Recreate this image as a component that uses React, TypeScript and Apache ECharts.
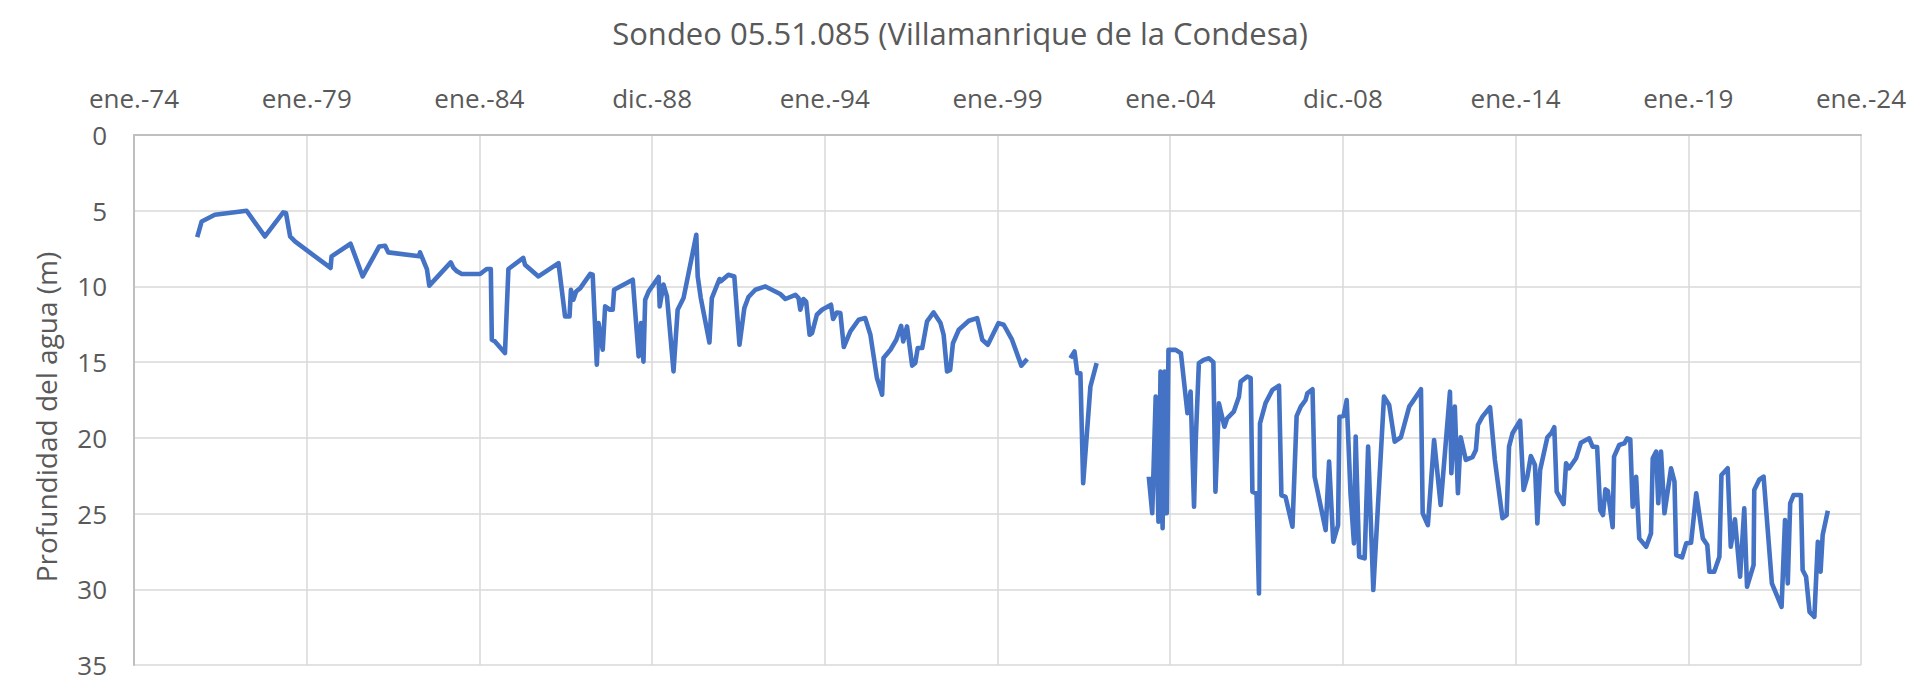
import { useEffect, useRef } from 'react';
import * as echarts from 'echarts';

// Sondeo 05.51.085 - water depth readings.
// Years are decimal years, depths in metres. Three separate runs of data.
const runAYears = [
  1975.83, 1975.96, 1976.34, 1977.26, 1977.79, 1978.32, 1978.4, 1978.52, 1978.66, 1979.69,
  1979.72, 1980.27, 1980.62, 1981.1, 1981.27, 1981.36, 1982.26, 1982.28, 1982.48, 1982.55,
  1983.17, 1983.25, 1983.35, 1983.49, 1984.02, 1984.21, 1984.33, 1984.36, 1984.45, 1984.74,
  1984.84, 1985.27, 1985.32, 1985.71, 1986.29, 1986.48, 1986.61, 1986.65, 1986.72, 1986.8,
  1986.92, 1987.21, 1987.28, 1987.4, 1987.45, 1987.57, 1987.64, 1987.78, 1987.86, 1987.9,
  1988.44, 1988.61, 1988.68, 1988.75, 1988.8, 1988.9, 1989.19, 1989.22, 1989.33, 1989.43,
  1989.62, 1989.74, 1989.91, 1990.28, 1990.32, 1990.41, 1990.66, 1990.73, 1990.95, 1990.99,
  1991.21, 1991.38, 1991.53, 1991.67, 1991.79, 1991.99, 1992.28, 1992.71, 1992.86, 1993.15,
  1993.24, 1993.29, 1993.38, 1993.46, 1993.56, 1993.63, 1993.77, 1993.92, 1994.18, 1994.24,
  1994.35, 1994.45, 1994.55, 1994.74, 1994.98, 1995.17, 1995.32, 1995.51, 1995.66, 1995.7,
  1995.9, 1996.07, 1996.21, 1996.27, 1996.38, 1996.53, 1996.62, 1996.69, 1996.82, 1996.96,
  1997.15, 1997.35, 1997.44, 1997.54, 1997.63, 1997.71, 1997.88, 1998.17, 1998.41, 1998.56,
  1998.72, 1999.03, 1999.18, 1999.42, 1999.69, 1999.86,
];
const runADepths = [
  6.74, 5.71, 5.27, 5.0, 6.7, 5.11, 5.15, 6.7, 7.03, 8.78,
  8.01, 7.18, 9.34, 7.36, 7.31, 7.75, 8.01, 7.75, 8.85, 9.95,
  8.41, 8.78, 9.0, 9.18, 9.18, 8.85, 8.85, 13.52, 13.63, 14.4,
  8.85, 8.12, 8.57, 9.34, 8.46, 11.98, 11.98, 10.22, 10.88, 10.33,
  10.11, 9.17, 9.23, 15.17, 12.42, 14.18, 11.32, 11.54, 11.54, 10.22,
  9.56, 14.62, 12.42, 14.97, 10.88, 10.33, 9.38, 11.32, 9.88, 10.66,
  15.61, 11.54, 10.77, 6.59, 9.34, 10.77, 13.7, 10.77, 9.51, 9.66,
  9.23, 9.34, 13.85, 11.43, 10.7, 10.22, 10.0, 10.5, 10.83, 10.55,
  10.77, 11.54, 10.83, 11.0, 13.19, 13.08, 11.87, 11.54, 11.21, 12.15,
  11.72, 11.76, 14.0, 12.97, 12.2, 12.09, 13.19, 16.05, 17.15, 14.73,
  14.18, 13.52, 12.6, 13.63, 12.64, 15.23, 15.05, 14.07, 14.07, 12.31,
  11.72, 12.42, 13.19, 15.62, 15.51, 13.75, 12.86, 12.27, 12.09, 13.52,
  13.85, 12.42, 12.53, 13.52, 15.23, 14.79,
];

const runBYears = [2001.11, 2001.23, 2001.31, 2001.4, 2001.48, 2001.69, 2001.87];
const runBDepths = [14.74, 14.3, 15.73, 15.73, 23.0, 16.61, 15.07];

const runCYears = [
  2003.38, 2003.48, 2003.58, 2003.66, 2003.72, 2003.78, 2003.84, 2003.9, 2003.95, 2004.16,
  2004.31, 2004.5, 2004.59, 2004.69, 2004.74, 2004.83, 2004.97, 2005.12, 2005.25, 2005.31,
  2005.41, 2005.57, 2005.65, 2005.84, 2005.99, 2006.04, 2006.23, 2006.33, 2006.38, 2006.5,
  2006.57, 2006.6, 2006.76, 2006.96, 2007.15, 2007.22, 2007.34, 2007.54, 2007.66, 2007.78,
  2007.92, 2007.97, 2008.12, 2008.18, 2008.5, 2008.6, 2008.72, 2008.86, 2008.9, 2009.02,
  2009.11, 2009.22, 2009.32, 2009.37, 2009.47, 2009.63, 2009.73, 2009.88, 2010.19, 2010.34,
  2010.5, 2010.68, 2010.92, 2011.02, 2011.26, 2011.31, 2011.46, 2011.64, 2011.83, 2012.1,
  2012.14, 2012.24, 2012.33, 2012.41, 2012.56, 2012.75, 2012.85, 2012.91, 2013.04, 2013.26,
  2013.4, 2013.62, 2013.74, 2013.81, 2013.91, 2014.13, 2014.23, 2014.34, 2014.44, 2014.56,
  2014.63, 2014.71, 2014.92, 2015.04, 2015.12, 2015.19, 2015.39, 2015.46, 2015.55, 2015.75,
  2015.89, 2016.13, 2016.23, 2016.36, 2016.45, 2016.53, 2016.6, 2016.67, 2016.81, 2016.85,
  2017.0, 2017.15, 2017.23, 2017.32, 2017.39, 2017.49, 2017.58, 2017.78, 2017.92, 2017.97,
  2018.07, 2018.13, 2018.21, 2018.31, 2018.5, 2018.6, 2018.65, 2018.82, 2018.94, 2019.08,
  2019.23, 2019.42, 2019.55, 2019.61, 2019.75, 2019.9, 2019.96, 2020.14, 2020.23, 2020.35,
  2020.5, 2020.62, 2020.7, 2020.89, 2020.91, 2021.06, 2021.18, 2021.42, 2021.7, 2021.8,
  2021.88, 2021.95, 2022.05, 2022.26, 2022.31, 2022.41, 2022.51, 2022.65, 2022.75, 2022.83,
  2022.89, 2023.04,
];
const runCDepths = [
  22.56, 24.98, 17.28, 25.53, 15.62, 25.97, 15.62, 24.98, 14.19, 14.19,
  14.41, 18.37, 16.94, 24.54, 20.14, 15.07, 14.85, 14.74, 15.0, 23.56,
  17.71, 19.26, 18.71, 18.27, 17.28, 16.29, 15.95, 16.06, 23.56, 23.67,
  30.27, 19.04, 17.71, 16.83, 16.56, 23.79, 23.9, 25.87, 18.57, 17.94,
  17.5, 17.06, 16.79, 22.56, 26.09, 21.57, 26.86, 25.76, 18.6, 18.55,
  17.5, 23.66, 26.97, 19.92, 27.85, 27.96, 20.58, 30.05, 17.28, 17.83,
  20.25, 19.96, 17.94, 17.61, 16.79, 24.98, 25.76, 20.14, 24.43, 16.95,
  22.34, 17.94, 23.66, 19.96, 21.46, 21.28, 20.8, 19.15, 18.6, 17.98,
  21.46, 25.31, 25.1, 20.58, 19.7, 18.87, 23.44, 22.56, 21.2, 21.79,
  25.65, 22.12, 19.96, 19.66, 19.3, 23.55, 24.37, 21.68, 22.01, 21.35,
  20.32, 20.03, 20.58, 20.6, 24.77, 25.1, 23.4, 23.5, 25.9, 21.24,
  20.47, 20.36, 20.03, 20.1, 24.55, 22.57, 26.64, 27.19, 26.31, 21.35,
  20.91, 24.32, 20.91, 24.98, 22.01, 22.89, 27.74, 27.89, 26.97, 26.93,
  23.66, 26.64, 27.08, 28.84, 28.84, 27.85, 22.45, 22.01, 27.19, 25.38,
  29.17, 24.65, 29.83, 28.4, 23.44, 22.74, 22.56, 29.61, 31.16, 25.43,
  29.61, 24.32, 23.77, 23.77, 28.73, 29.17, 31.49, 31.82, 26.86, 28.84,
  26.42, 24.81,
];

const depthTicks = [0, 35, 5]; // min, max, step
const monthNames = ['ene.', 'feb.', 'mar.', 'abr.', 'may.', 'jun.', 'jul.', 'ago.', 'sep.', 'oct.', 'nov.', 'dic.'];

const BASE_YEAR = 1974;
const DAY_MS = 86400000;
const TICK_DAYS = 1826.25; // 5 years
const FONT = '"Open Sans", "Noto Sans", sans-serif';
const TEXT = '#595959';

// day offset from 1 Jan 1974
const toDays = (year: number) => (year - BASE_YEAR) * 365.25;
const pairs = (years: number[], depths: number[]) => years.map((y, i) => [toDays(y), depths[i]]);

const dayLabel = (days: number) => {
  const d = new Date(Date.UTC(BASE_YEAR, 0, 1) + Math.floor(days + 1e-6) * DAY_MS);
  const yy = String(d.getUTCFullYear() % 100).padStart(2, '0');
  return `${monthNames[d.getUTCMonth()]}-${yy}`;
};

export default function App() {
  const ref = useRef<HTMLDivElement>(null);

  useEffect(() => {
    document.body.style.margin = '0';
    if (!ref.current) return;
    const chart = echarts.init(ref.current, null, { renderer: 'svg' });

    const line = (data: number[][]) => ({
      type: 'line' as const,
      data,
      showSymbol: false,
      lineStyle: { color: '#4472C4', width: 4.6, join: 'round' as const },
      itemStyle: { color: '#4472C4' },
    });

    chart.setOption({
      animation: false,
      backgroundColor: '#ffffff',
      title: {
        text: 'Sondeo 05.51.085 (Villamanrique de la Condesa)',
        left: 'center',
        top: 12,
        textStyle: { fontSize: 31, fontWeight: 'normal', color: TEXT, fontFamily: FONT },
      },
      grid: { left: 134, top: 135, right: 59, bottom: 17 },
      xAxis: {
        type: 'value',
        position: 'top',
        min: 0,
        max: TICK_DAYS * 10,
        interval: TICK_DAYS,
        axisLine: { show: true, lineStyle: { color: '#bfbfbf', width: 2 } },
        axisTick: { show: false },
        splitLine: { show: true, lineStyle: { color: '#d9d9d9', width: 1.5 } },
        axisLabel: {
          formatter: (v: number) => dayLabel(v),
          fontSize: 26,
          color: TEXT,
          fontFamily: FONT,
          margin: 24,
          showMinLabel: true,
          showMaxLabel: true,
        },
      },
      yAxis: {
        type: 'value',
        inverse: true,
        min: depthTicks[0],
        max: depthTicks[1],
        interval: depthTicks[2],
        name: 'Profundidad del agua (m)',
        nameLocation: 'middle',
        nameGap: 74,
        nameTextStyle: { fontSize: 28, color: TEXT, fontFamily: FONT, padding: [0, 34, 0, 0] },
        axisLine: { show: true, lineStyle: { color: '#bfbfbf', width: 2 } },
        axisTick: { show: false },
        splitLine: { show: true, lineStyle: { color: '#d9d9d9', width: 1.5 } },
        axisLabel: { fontSize: 26, color: TEXT, fontFamily: FONT, margin: 27 },
      },
      series: [
        line(pairs(runAYears, runADepths)),
        line(pairs(runBYears, runBDepths)),
        line(pairs(runCYears, runCDepths)),
      ],
    });

    return () => chart.dispose();
  }, []);

  return <div ref={ref} style={{ width: 1920, height: 682 }} />;
}
